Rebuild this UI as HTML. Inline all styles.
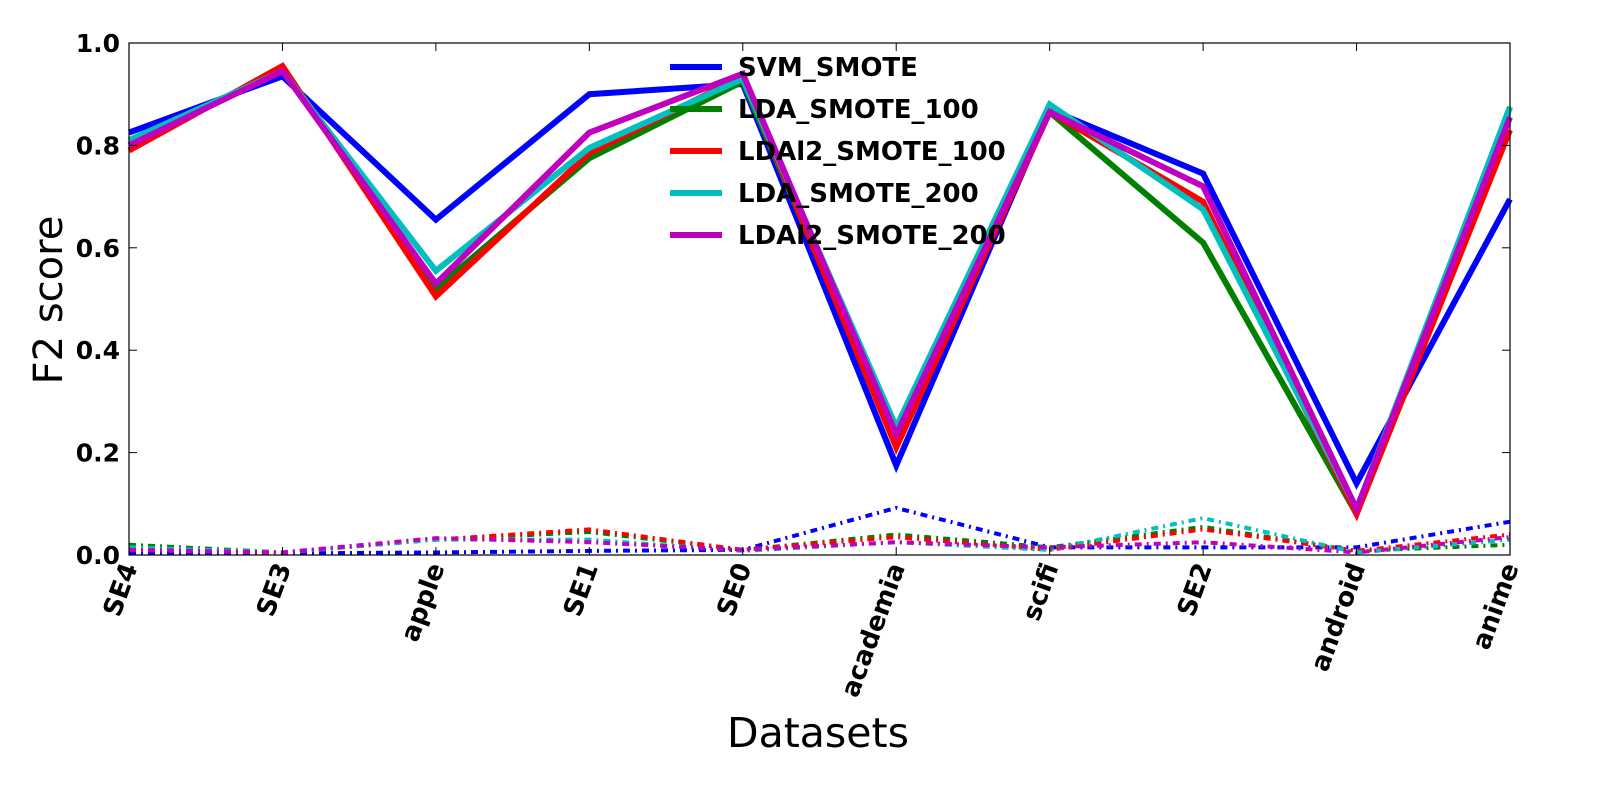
<!DOCTYPE html>
<html><head><meta charset="utf-8"><style>
body{margin:0;background:#fff}
svg{display:block;font-family:"DejaVu Sans","Liberation Sans",sans-serif}
</style></head><body>
<svg id="c" width="1600" height="800">
<rect width="1600" height="800" fill="#fff"/>
</svg>
<script>
const categories=["SE4","SE3","apple","SE1","SE0","academia","scifi","SE2","android","anime"];
const seriesNames=["SVM_SMOTE","LDA_SMOTE_100","LDAl2_SMOTE_100","LDA_SMOTE_200","LDAl2_SMOTE_200"];
const svmSolid=[0.825,0.935,0.655,0.90,0.92,0.175,0.87,0.745,0.14,0.695];
const lda100Solid=[0.80,0.95,0.52,0.775,0.925,0.22,0.865,0.61,0.08,0.875];
const ldal2100Solid=[0.79,0.955,0.505,0.785,0.935,0.21,0.865,0.69,0.08,0.83];
const lda200Solid=[0.81,0.945,0.555,0.795,0.93,0.25,0.88,0.675,0.09,0.875];
const ldal2200Solid=[0.80,0.945,0.53,0.825,0.94,0.235,0.865,0.72,0.09,0.855];
const svmDash=[0.005,0.003,0.005,0.008,0.01,0.092,0.015,0.015,0.015,0.065];
const lda100Dash=[0.02,0.005,0.03,0.045,0.01,0.04,0.015,0.055,0.008,0.02];
const ldal2100Dash=[0.01,0.005,0.03,0.05,0.01,0.035,0.01,0.05,0.008,0.04];
const lda200Dash=[0.015,0.005,0.03,0.03,0.008,0.025,0.01,0.072,0.005,0.03];
const ldal2200Dash=[0.01,0.005,0.033,0.025,0.01,0.025,0.015,0.025,0.005,0.035];
const yTicks=["0.0","0.2","0.4","0.6","0.8","1.0"];
const colors=["#0000ff","#008000","#ff0000","#00bfbf","#bf00bf"];
const solids=[svmSolid,lda100Solid,ldal2100Solid,lda200Solid,ldal2200Solid];
const dashes=[svmDash,lda100Dash,ldal2100Dash,lda200Dash,ldal2200Dash];
const L=129,R=1510,T=43,B=555;
const xs=i=>L+i*(R-L)/(categories.length-1);
const ys=v=>B-v*(B-T);
const svg=document.getElementById('c');const NS="http://www.w3.org/2000/svg";
function mk(t,a,txt){const e=document.createElementNS(NS,t);for(const k in a)e.setAttribute(k,a[k]);if(txt!=null)e.textContent=txt;svg.appendChild(e);return e;}
dashes.forEach((d,s)=>{const p=mk('polyline',{points:d.map((v,i)=>xs(i)+','+ys(v)).join(' '),fill:'none',stroke:colors[s],'stroke-width':4,'stroke-dasharray':'7,5,2,5'});

});
solids.forEach((d,s)=>{const p=mk('polyline',{points:d.map((v,i)=>xs(i)+','+ys(v)).join(' '),fill:'none',stroke:colors[s],'stroke-width':6,'stroke-linejoin':'miter'});

});
const fr=mk('rect',{x:L,y:T,width:R-L,height:B-T,fill:'none',stroke:'#000','stroke-width':1.2});


yTicks.forEach((t,i)=>{const v=parseFloat(t),y=ys(v);
mk('line',{x1:L,x2:L+8,y1:y,y2:y,stroke:'#000'});mk('line',{x1:R,x2:R-8,y1:y,y2:y,stroke:'#000'});
const e=mk('text',{x:120,y:y+9,'text-anchor':'end','font-size':25,'font-weight':'bold'},t);

});
categories.forEach((c,i)=>{const x=xs(i);
mk('line',{x1:x,x2:x,y1:B,y2:B-8,stroke:'#000'});mk('line',{x1:x,x2:x,y1:T,y2:T+8,stroke:'#000'});
const e=mk('text',{transform:`translate(${x+9},${B+12}) rotate(-70)`,'text-anchor':'end','font-size':26,'font-weight':'bold'},c);

});
const yt=mk('text',{transform:'translate(62,300) rotate(-90)','text-anchor':'middle','font-size':40},'F2 score');


const xt=mk('text',{x:818,y:747,'text-anchor':'middle','font-size':41},'Datasets');


seriesNames.forEach((n,s)=>{const y=67+s*42;
const l=mk('line',{x1:670,x2:722,y1:y,y2:y,stroke:colors[s],'stroke-width':6});


const t=mk('text',{x:738,y:y+9,'font-size':26,'font-weight':'bold'},n);

});
</script>
</body></html>
